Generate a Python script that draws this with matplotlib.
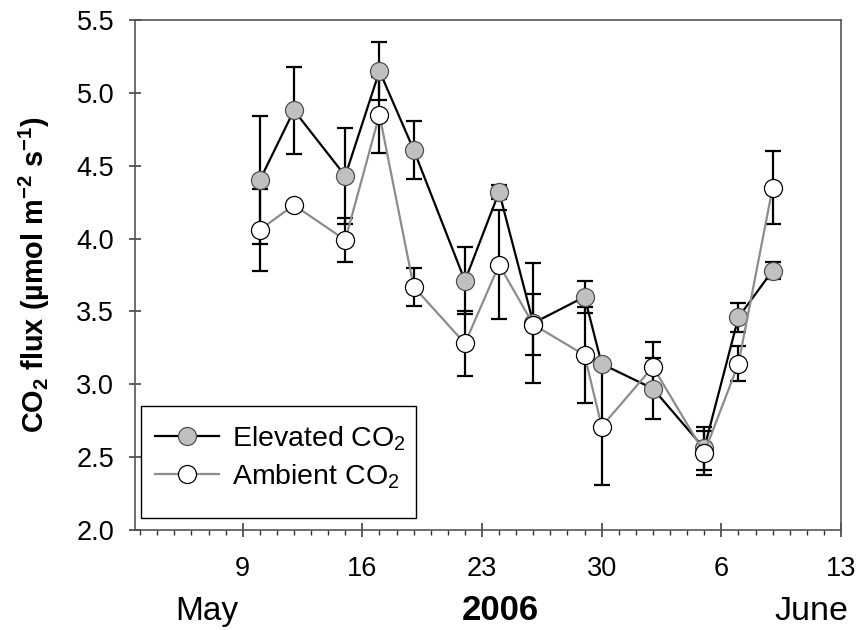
import matplotlib
matplotlib.use("Agg")
import matplotlib.pyplot as plt
from matplotlib.patches import Rectangle
from matplotlib.ticker import MultipleLocator, FixedLocator, FormatStrFormatter

plt.rcParams['font.family'] = ['Liberation Sans', 'DejaVu Sans']
plt.rcParams['mathtext.fontset'] = 'custom'
plt.rcParams['mathtext.rm'] = 'Liberation Sans'
plt.rcParams['mathtext.bf'] = 'Liberation Sans:bold'

# day of May (June d -> 31 + d)
days = [10, 12, 15, 17, 19, 22, 24, 26, 29, 30, 33, 36, 38, 40]
elevated = [4.40, 4.88, 4.43, 5.15, 4.61, 3.71, 4.32, 3.42, 3.60, 3.14, 2.97, 2.56, 3.46, 3.78]
elevated_se = [0.44, 0.30, 0.33, 0.20, 0.20, 0.23, 0.05, 0.41, 0.11, 0.03, 0.21, 0.15, 0.10, 0.06]
ambient = [4.06, 4.23, 3.99, 4.85, 3.67, 3.28, 3.82, 3.41, 3.20, 2.71, 3.12, 2.53, 3.14, 4.35]
ambient_se = [0.28, 0.02, 0.15, 0.26, 0.13, 0.22, 0.375, 0.21, 0.33, 0.40, 0.17, 0.15, 0.12, 0.25]

tick_days = [9, 16, 23, 30, 37, 44]
tick_labels = ["9", "16", "23", "30", "6", "13"]

fig = plt.figure(figsize=(8.56, 6.3), dpi=100)
ax = fig.add_axes([135 / 856, 1 - 530 / 630, 706 / 856, 510 / 630])

ax.errorbar(days, elevated, yerr=elevated_se, fmt='none', ecolor='black',
            elinewidth=1.6, capsize=6, capthick=1.6, zorder=2)
ax.errorbar(days, ambient, yerr=ambient_se, fmt='none', ecolor='black',
            elinewidth=1.6, capsize=6, capthick=1.6, zorder=2)
ax.plot(days, elevated, '-o', color='black', lw=1.6, ms=13,
        mfc='#c0c0c0', mec='#505050', mew=0.9, label='Elevated CO$_\\mathrm{2}$', zorder=3)
ax.plot(days, ambient, '-o', color='#8c8c8c', lw=1.6, ms=13,
        mfc='white', mec='black', mew=0.9, label='Ambient CO$_\\mathrm{2}$', zorder=4)

ax.set_xlim(2.7, 44)
ax.set_ylim(2.0, 5.5)
ax.xaxis.set_major_locator(FixedLocator(tick_days))
ax.set_xticklabels(tick_labels)
ax.xaxis.set_minor_locator(MultipleLocator(1))
ax.yaxis.set_major_locator(MultipleLocator(0.5))
ax.yaxis.set_major_formatter(FormatStrFormatter('%.1f'))

for s in ax.spines.values():
    s.set_color('#555555')
    s.set_linewidth(1.2)
ax.tick_params(axis='x', which='major', direction='inout', length=10, width=1.1,
               color='#333333', labelsize=19.5, pad=14)
ax.tick_params(axis='x', which='minor', direction='out', length=3.5, width=1.0, color='#333333')
ax.tick_params(axis='y', which='major', direction='inout', length=8, width=1.1,
               color='#333333', labelsize=19.5, pad=11)

ax.set_ylabel('CO$_\\mathbf{2}$ flux (µmol m$^\\mathbf{-2}$ s$^\\mathbf{-1}$)',
              fontsize=20.8, fontweight='bold')
ax.yaxis.set_label_coords(-0.118, 0.5)

# legend box drawn separately so its padding can match the original
ax.add_patch(Rectangle((0.0085, 0.0235), 0.3895, 0.2196, transform=ax.transAxes,
                       facecolor='white', edgecolor='black', lw=1.0, zorder=5))
leg = ax.legend(loc='center left', bbox_to_anchor=(0.028, 0.142), borderaxespad=0,
                borderpad=0, fontsize=20.5, frameon=False,
                handlelength=2.25, labelspacing=0.33, handletextpad=0.45)
leg.set_zorder(6)

fig.text(207 / 856, 10 / 630, 'May', fontsize=24, ha='center', va='baseline')
fig.text(500 / 856, 10 / 630, '2006', fontsize=25, fontweight='bold', ha='center', va='baseline')
fig.text(811 / 856, 10 / 630, 'June', fontsize=24.5, ha='center', va='baseline')

fig.savefig('out.png', dpi=100)
